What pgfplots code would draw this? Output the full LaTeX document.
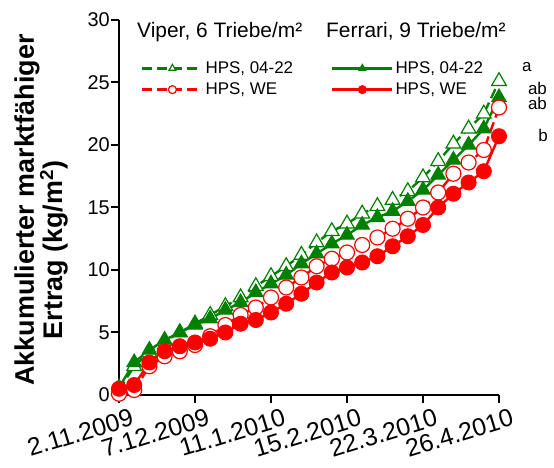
\documentclass[border=0pt]{standalone}
\usepackage{pgfplots}
\pgfplotsset{compat=1.18}
\usepackage{pgfplotstable}
\usepackage{fontspec}
\setmainfont{Liberation Sans}
\definecolor{xgreen}{RGB}{0,128,0}
\definecolor{xred}{RGB}{255,0,0}

\pgfplotstableread{
day vg fg vr fr
0   0.4  0.6  0.1  0.5
7   2.3  2.6  0.4  0.8
14  3.4  3.6  2.3  2.6
21  4.3  4.4  3.1  3.5
28  5.0  5.0  3.5  3.9
35  5.7  5.6  4.0  4.2
42  6.4  6.1  4.7  4.5
49  7.1  6.8  5.6  5.0
56  7.8  7.4  6.4  5.7
63  8.7  8.2  7.0  6.0
70  9.5  8.9  7.8  6.6
77  10.3 9.6  8.6  7.3
84  11.2 10.5 9.4  8.1
91  12.2 11.3 10.3 9.0
98  13.1 12.1 10.9 9.8
105 13.7 12.8 11.4 10.2
112 14.5 13.6 12.0 10.6
119 15.1 14.2 12.6 11.1
126 15.6 14.7 13.3 11.9
133 16.3 15.5 14.1 12.7
140 17.4 16.4 15.0 13.6
147 18.7 17.6 16.2 15.0
154 20.1 18.8 17.7 16.1
161 21.3 20.0 18.6 17.0
168 22.5 21.3 19.6 17.9
175 25.1 23.8 23.0 20.7
}\data

\begin{document}
\begin{tikzpicture}
\begin{axis}[
  at={(119bp,73bp)}, anchor=south west,
  width=380bp, height=375bp, scale only axis,
  xmin=0, xmax=175, ymin=0, ymax=30,
  axis x line*=bottom, axis y line*=left,
  axis line style={line width=2.2bp, -},
  xtick={0,35,...,175},
  xticklabels={2.11.2009,7.12.2009,11.1.2010,15.2.2010,22.3.2010,26.4.2010},
  ytick={0,5,...,30},
  tick align=outside, major tick length=8bp,
  tick style={line width=2bp, black},
  x tick label style={rotate=17, anchor=north east, font=\fontsize{25}{25}\selectfont, inner sep=0bp, xshift=9bp, yshift=-8bp},
  y tick label style={font=\fontsize{20}{20}\selectfont, inner sep=1bp},
  /pgf/number format/assume math mode=true,
  clip=false,
  legend columns=2,
  legend cell align=left,
  legend style={at={(0.05,0.9)}, anchor=north west, draw=none, fill=none,
    font=\fontsize{17}{17}\selectfont, row sep=4bp,
    /tikz/every even column/.style={column sep=36bp}},
  legend image code/.code={\draw[mark repeat=2,mark phase=2,#1,mark size=4bp] plot coordinates {(0bp,0bp) (30bp,0bp) (60bp,0bp)};},
]
\addplot[xgreen, line width=2.4bp, dash pattern=on 10bp off 5bp, mark=triangle*, mark size=8.5bp,
  mark options={solid, fill=white, draw=xgreen, line width=1.2bp}] table[x=day,y=vg] {\data};
\addlegendentry{HPS, 04-22}
\addplot[xgreen, line width=2.4bp, mark=triangle*, mark size=8.5bp,
  mark options={solid, fill=xgreen, draw=xgreen, line width=1bp}] table[x=day,y=fg] {\data};
\addlegendentry{HPS, 04-22}
\addplot[xred, line width=2.4bp, dash pattern=on 10bp off 5bp, mark=*, mark size=7.5bp,
  mark options={solid, fill=white, draw=xred, line width=1.2bp}] table[x=day,y=vr] {\data};
\addlegendentry{HPS, WE}
\addplot[xred, line width=2.4bp, mark=*, mark size=7.5bp,
  mark options={solid, fill=xred, draw=xred, line width=1bp}] table[x=day,y=fr] {\data};
\addlegendentry{HPS, WE}
\node[anchor=west, font=\fontsize{17}{17}\selectfont, inner sep=0pt] at (axis cs:185.5,26.2) {a};
\node[anchor=west, font=\fontsize{17}{17}\selectfont, inner sep=0pt] at (axis cs:188.3,24.5) {ab};
\node[anchor=west, font=\fontsize{17}{17}\selectfont, inner sep=0pt] at (axis cs:188.3,23.3) {ab};
\node[anchor=west, font=\fontsize{17}{17}\selectfont, inner sep=0pt] at (axis cs:193,20.8) {b};
\end{axis}
\node[anchor=base west, font=\fontsize{21}{21}\selectfont, inner sep=0pt] at (137bp,430bp) {Viper, 6 Triebe/m²};
\node[anchor=base west, font=\fontsize{21}{21}\selectfont, inner sep=0pt] at (326bp,430bp) {Ferrari, 9 Triebe/m²};
\node[rotate=90, font=\bfseries\fontsize{27}{27}\selectfont, inner sep=0pt] at (27bp,258bp) {Akkumulierter marktfähiger};
\node[rotate=90, font=\bfseries\fontsize{27}{27}\selectfont, inner sep=0pt] at (54bp,218bp) {Ertrag (kg/m\textsuperscript{2})};
\pgfresetboundingbox
\path[use as bounding box] (0,0) rectangle (554bp,468bp);
\end{tikzpicture}
\end{document}
